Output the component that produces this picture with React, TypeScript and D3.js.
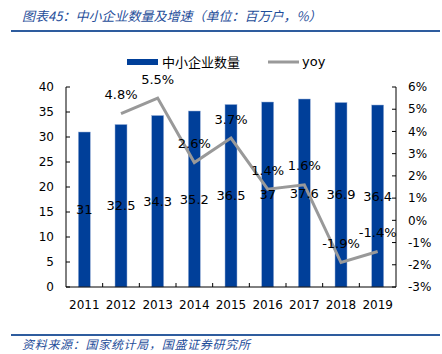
import React, { useEffect, useRef } from "react";
import * as d3 from "d3";

const years = ["2011", "2012", "2013", "2014", "2015", "2016", "2017", "2018", "2019"];
const counts = [31, 32.5, 34.3, 35.2, 36.5, 37, 37.6, 36.9, 36.4];
const yoy = [null, 4.8, 5.5, 2.6, 3.7, 1.4, 1.6, -1.9, -1.4];
const leftTicks = [0, 5, 10, 15, 20, 25, 30, 35, 40];
const rightTicks = [-3, -2, -1, 0, 1, 2, 3, 4, 5, 6];

const W = 442;
const H = 354;
const BLUE = "#003f99";
const GREY = "#999999";
const FONT = "'DejaVu Sans', Verdana, sans-serif";
const CJK = "'Noto Sans CJK SC', sans-serif";

export default function App() {
  const ref = useRef<SVGSVGElement>(null);

  useEffect(() => {
    const svg = d3.select(ref.current);
    svg.selectAll("*").remove();

    const left = 66, right = 396, top = 87, bottom = 287;

    const x = d3.scaleBand().domain(years).range([left, right]);
    const yL = d3.scaleLinear().domain([0, 40]).range([bottom, top]);
    const yR = d3.scaleLinear().domain([-3, 6]).range([bottom, top]);

    // title
    svg.append("text")
      .attr("x", 22).attr("y", 21)
      .attr("font-family", CJK).attr("font-size", 13).attr("font-style", "italic")
      .attr("fill", "#1f4e9a")
      .text("图表45：中小企业数量及增速（单位：百万户，%）");
    svg.append("line").attr("x1", 11).attr("x2", 440).attr("y1", 31).attr("y2", 31)
      .attr("stroke", "#2e5c9e").attr("stroke-width", 2);

    // footer
    svg.append("line").attr("x1", 11).attr("x2", 440).attr("y1", 335).attr("y2", 335)
      .attr("stroke", "#2e5c9e").attr("stroke-width", 2);
    svg.append("text")
      .attr("x", 22).attr("y", 349)
      .attr("font-family", CJK).attr("font-size", 12).attr("font-style", "italic")
      .attr("letter-spacing", 0.7)
      .attr("fill", "#1f4e9a")
      .text("资料来源：国家统计局，国盛证券研究所");

    // legend
    svg.append("rect").attr("x", 127).attr("y", 59).attr("width", 31).attr("height", 6).attr("fill", BLUE);
    svg.append("text").attr("x", 162).attr("y", 67)
      .attr("font-family", CJK).attr("font-size", 13).attr("fill", "#000")
      .text("中小企业数量");
    svg.append("line").attr("x1", 268).attr("x2", 299).attr("y1", 62).attr("y2", 62)
      .attr("stroke", GREY).attr("stroke-width", 3);
    svg.append("text").attr("x", 302).attr("y", 66)
      .attr("font-family", FONT).attr("font-size", 13).attr("fill", "#000")
      .text("yoy");

    // bars
    const bw = 12;
    svg.append("g").selectAll("rect").data(counts).join("rect")
      .attr("x", (d, i) => x(years[i])! + x.bandwidth() / 2 - bw / 2)
      .attr("y", (d) => yL(d))
      .attr("width", bw)
      .attr("height", (d) => bottom - yL(d))
      .attr("fill", BLUE)
      .attr("stroke", "#9db3d9").attr("stroke-width", 0.5);

    // axes
    const ax = svg.append("g").attr("font-family", FONT).attr("font-size", 12);
    ax.append("line").attr("x1", left).attr("x2", left).attr("y1", top).attr("y2", bottom).attr("stroke", "#000");
    ax.append("line").attr("x1", right).attr("x2", right).attr("y1", top).attr("y2", bottom).attr("stroke", "#000");
    ax.append("line").attr("x1", left).attr("x2", right).attr("y1", bottom).attr("y2", bottom).attr("stroke", "#000");

    leftTicks.forEach((t) => {
      ax.append("line").attr("x1", left).attr("x2", left + 4).attr("y1", yL(t)).attr("y2", yL(t)).attr("stroke", "#000");
      ax.append("text").attr("x", 54).attr("y", yL(t)).attr("dy", "0.35em")
        .attr("text-anchor", "end").attr("fill", "#000").text(String(t));
    });
    rightTicks.forEach((t) => {
      ax.append("line").attr("x1", right - 4).attr("x2", right).attr("y1", yR(t)).attr("y2", yR(t)).attr("stroke", "#000");
      ax.append("text").attr("x", 408).attr("y", yR(t)).attr("dy", "0.35em")
        .attr("text-anchor", "start").attr("fill", "#000").text(t + "%");
    });
    years.forEach((yr, i) => {
      if (i > 0) {
        const xx = x(yr)!;
        ax.append("line").attr("x1", xx).attr("x2", xx).attr("y1", bottom).attr("y2", bottom - 4).attr("stroke", "#000");
      }
      ax.append("text").attr("x", x(yr)! + x.bandwidth() / 2).attr("y", 305).attr("dy", "0.35em")
        .attr("text-anchor", "middle").attr("fill", "#000").text(yr);
    });

    // line
    const pts = yoy.map((v, i) => ({ v, yr: years[i] })).filter((p) => p.v !== null) as { v: number; yr: string }[];
    const line = d3.line<{ v: number; yr: string }>()
      .x((p) => x(p.yr)! + x.bandwidth() / 2)
      .y((p) => yR(p.v));
    svg.append("path").datum(pts).attr("d", line)
      .attr("fill", "none").attr("stroke", GREY).attr("stroke-width", 3);

    // bar labels
    const lab = svg.append("g").attr("font-family", FONT).attr("font-size", 13).attr("fill", "#000").attr("text-anchor", "middle");
    counts.forEach((c, i) => {
      lab.append("text").attr("x", x(years[i])! + x.bandwidth() / 2).attr("y", yL(c / 2)).attr("dy", "0.35em")
        .text(String(c));
    });
    pts.forEach((p) => {
      lab.append("text").attr("x", x(p.yr)! + x.bandwidth() / 2).attr("y", yR(p.v) - 19).attr("dy", "0.35em")
        .text(p.v.toFixed(1) + "%");
    });
  }, []);

  return (
    <svg ref={ref} width={W} height={H} style={{ position: "absolute", left: 0, top: 0, background: "#fff" }} />
  );
}
